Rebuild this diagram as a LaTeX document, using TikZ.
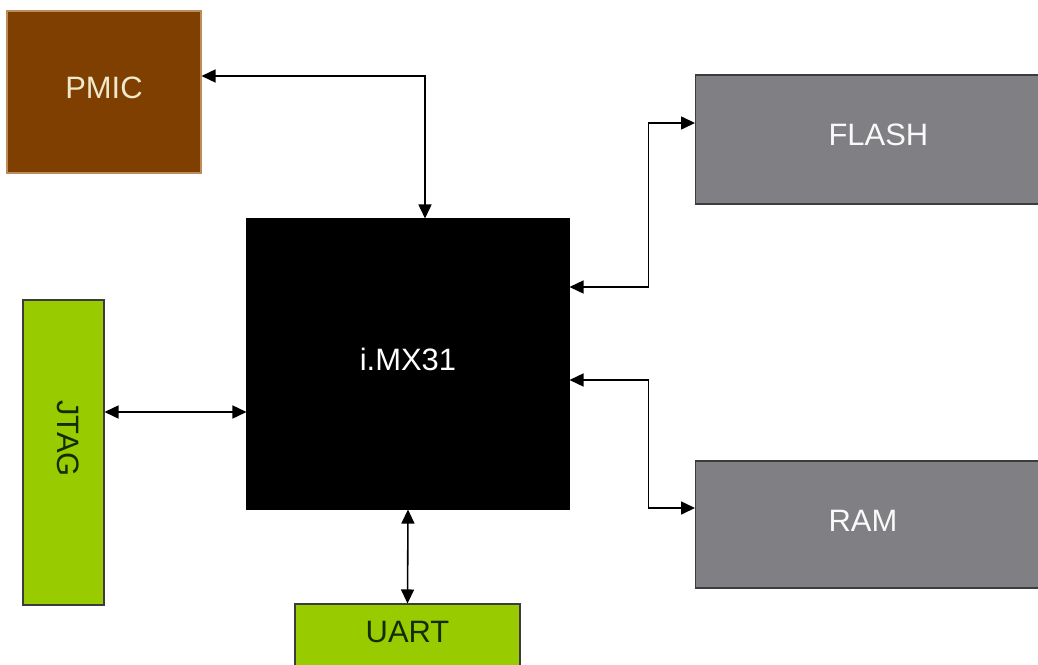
\documentclass[tikz,border=0pt]{standalone}
\usepackage{fontspec}
\setmainfont{Liberation Sans}
\definecolor{PmicBrown}{RGB}{127, 63, 0}
\definecolor{PmicEdge}{RGB}{190, 140, 90}
\definecolor{PmicText}{RGB}{240, 232, 205}
\definecolor{PortGreen}{RGB}{153, 204, 0}
\definecolor{PortText}{RGB}{20, 45, 0}
\definecolor{MemGray}{RGB}{128, 127, 131}
\definecolor{MemEdge}{RGB}{60, 60, 60}
\usetikzlibrary{arrows.meta, positioning}

\begin{document}
\begin{tikzpicture}[font=\fontsize{17.6}{20}\selectfont,
	blk/.style={rectangle, inner sep=0pt, line width=0.6pt,
		text height=0.45cm, text depth=0.19cm},
	pm/.style={blk, draw=PmicEdge, fill=PmicBrown, text=PmicText},
	cpu/.style={blk, draw=black, fill=black, text=white},
	port/.style={blk, draw=MemEdge, fill=PortGreen, text=PortText},
	mem/.style={blk, draw=MemEdge, fill=MemGray, text=white!95!gray,
		align=left, text width=4cm, inner xsep=2.66cm},
	fl/.style={{Triangle[length=2.8mm, width=2.6mm]}-{Triangle[length=2.8mm, width=2.6mm]},
		line width=0.9pt, black}]
	\clip (0,0) rectangle (20.76,-13.28);
	\fill[white] (0,0) rectangle (20.76,-13.28);
	\node[pm, minimum width=3.88cm, minimum height=3.24cm] (P) at (2.08,-1.84) {PMIC};
	\node[cpu, minimum width=6.44cm, minimum height=5.80cm] (M) at (8.16,-7.28) {i.MX31};
	\node[port, rotate=-90, minimum height=1.62cm, align=left,
		text width=2.1cm, inner xsep=2cm] (J) at (1.27,-9.05) {JTAG};
	\node[port, minimum width=4.50cm, minimum height=1.28cm] (U) at (8.15,-12.72) {UART};
	\node[mem, anchor=west, minimum height=2.58cm] (F) at (13.90,-2.79) {FLASH};
	\node[mem, anchor=west, minimum height=2.54cm] (R) at (13.90,-10.49) {RAM};
	\draw[fl] ([yshift=3.2mm]P.east) -| ([xshift=3.4mm]M.north);
	\draw[fl] ([yshift=8.1mm]J.north) -- ([yshift=8.1mm]J.north -| M.west);
	\draw[fl] (M.south) -- (U.north);
	\draw[fl] ([yshift=15.4mm]M.east) -- ++(1.58,0) |- ([yshift=3.3mm]F.west);
	\draw[fl] ([yshift=-3.2mm]M.east) -- ++(1.58,0) |- ([yshift=3.3mm]R.west);
\end{tikzpicture}
\end{document}
